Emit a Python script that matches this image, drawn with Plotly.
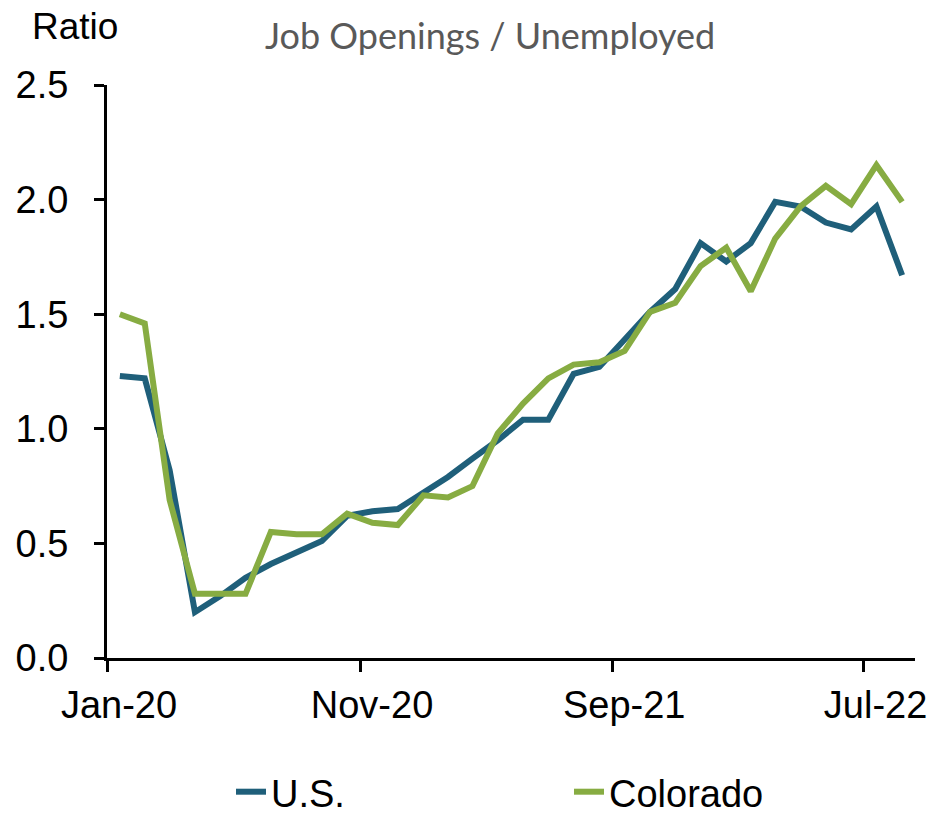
import plotly.graph_objects as go

months = ["2020-01", "2020-02", "2020-03", "2020-04", "2020-05", "2020-06",
          "2020-07", "2020-08", "2020-09", "2020-10", "2020-11", "2020-12",
          "2021-01", "2021-02", "2021-03", "2021-04", "2021-05", "2021-06",
          "2021-07", "2021-08", "2021-09", "2021-10", "2021-11", "2021-12",
          "2022-01", "2022-02", "2022-03", "2022-04", "2022-05", "2022-06",
          "2022-07", "2022-08"]

us = [1.23, 1.22, 0.82, 0.20, 0.27, 0.35, 0.41, 0.46, 0.51, 0.62,
      0.64, 0.65, 0.72, 0.79, 0.87, 0.95, 1.04, 1.04, 1.24, 1.27,
      1.39, 1.51, 1.61, 1.81, 1.73, 1.81, 1.99, 1.97, 1.90, 1.87,
      1.97, 1.67]

colorado = [1.50, 1.46, 0.69, 0.28, 0.28, 0.28, 0.55, 0.54, 0.54, 0.63,
            0.59, 0.58, 0.71, 0.70, 0.75, 0.98, 1.11, 1.22, 1.28, 1.29,
            1.34, 1.51, 1.55, 1.71, 1.79, 1.60, 1.83, 1.97, 2.06, 1.98,
            2.15, 1.99]

tick_dates = ["2020-01-01", "2020-11-01", "2021-09-01", "2022-07-01"]
tick_labels = ["Jan-20", "Nov-20", "Sep-21", "Jul-22"]
y_ticks = [0.0, 0.5, 1.0, 1.5, 2.0, 2.5]

BLUE = "#1F5F7A"
GREEN = "#87AC42"
FONT = "Liberation Sans, Arial, sans-serif"

W, H = 928, 814
L, R, T, B = 107, 13, 85, 156
pw = W - L - R
ph = H - T - B

fig = go.Figure()
fig.add_trace(go.Scatter(x=months, y=us, name="U.S.", mode="lines",
                         xperiod="M1", xperiodalignment="middle",
                         line=dict(color=BLUE, width=6)))
fig.add_trace(go.Scatter(x=months, y=colorado, name="Colorado", mode="lines",
                         xperiod="M1", xperiodalignment="middle",
                         line=dict(color=GREEN, width=6)))

fig.update_layout(
    width=W, height=H,
    margin=dict(l=L, r=R, t=T, b=B, autoexpand=False),
    paper_bgcolor="white", plot_bgcolor="white",
    font=dict(family=FONT, size=38, color="black"),
    showlegend=True,
    legend=dict(orientation="h", xref="container", yref="container",
                x=231 / W, xanchor="left", y=1 - 792 / H, yanchor="middle",
                entrywidth=293, entrywidthmode="pixels",
                font=dict(size=38), itemwidth=30, bgcolor="rgba(0,0,0,0)"),
    xaxis=dict(type="date", range=["2020-01-01", "2022-09-01"],
               tickvals=tick_dates, ticktext=tick_labels,
               showgrid=False, zeroline=False, automargin=False,
               showline=True, linecolor="black", linewidth=3,
               ticks="outside", ticklen=11, tickwidth=3, tickcolor="black",
               ticklabelshift=12,
               tickfont=dict(size=38)),
    yaxis=dict(range=[0, 2.5], tickvals=y_ticks, tickformat=".1f",
               showgrid=False, zeroline=False, automargin=False,
               showline=True, linecolor="black", linewidth=3,
               ticks="outside", ticklen=10, tickwidth=3, tickcolor="black",
               ticklabelstandoff=18,
               tickfont=dict(size=38)),
)

fig.add_annotation(text="Ratio", xref="paper", yref="paper",
                   x=(75 - L) / pw, y=(H - B - 26) / ph,
                   xanchor="center", yanchor="middle", showarrow=False,
                   font=dict(family=FONT, size=37, color="black"))
fig.add_annotation(text="Job Openings / Unemployed", xref="paper", yref="paper",
                   x=(490 - L) / pw, y=(H - B - 35) / ph,
                   xanchor="center", yanchor="middle", showarrow=False,
                   font=dict(family="Lato, Carlito, Calibri, sans-serif", size=36, color="#595959"))

fig.write_html("out.html", config={"displayModeBar": False})

# remove the browser's default body margin so the figure sits at the page origin
with open("out.html", "r", encoding="utf-8") as f:
    html = f.read()
html = html.replace("<head>", "<head><style>html,body{margin:0;padding:0;overflow:hidden;}</style>", 1)
with open("out.html", "w", encoding="utf-8") as f:
    f.write(html)
